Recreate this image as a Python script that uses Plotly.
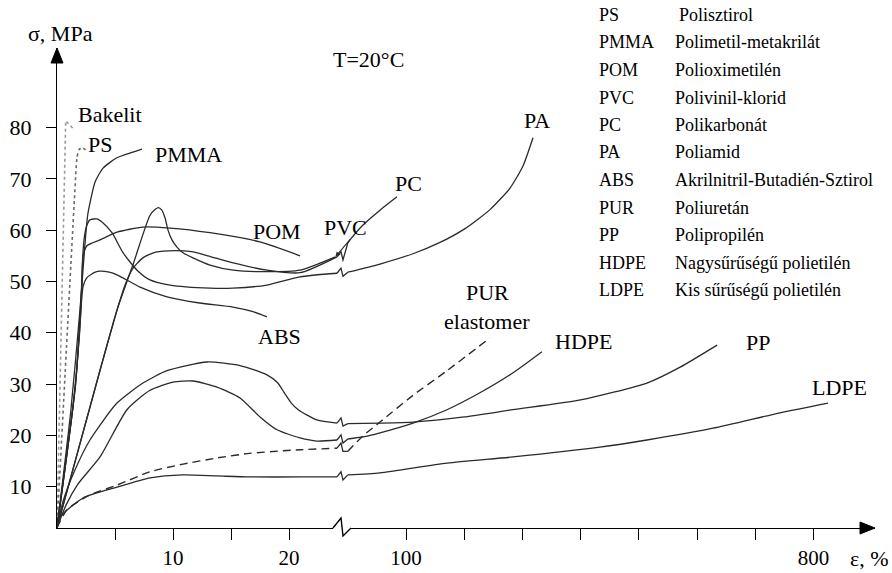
import plotly.graph_objects as go

FONT = "Liberation Serif, Times New Roman, serif"

# ---------------- data: strain [%], stress [MPa] ----------------
# left part of the broken strain axis (0 ... ~25 %)
bakelit_x = [0, 0.75, 1.35]
bakelit_y = [2, 81.3, 79.9]
ps_x = [0, 1.5, 1.72, 1.9, 2.16, 2.5]
ps_y = [2, 66, 74.0, 75.7, 76.1, 75.6]
pmma_x = [0, 1.2, 2.0, 2.4, 2.65, 2.9, 3.28, 3.97, 5.17, 6.55, 7.33]
pmma_y = [2, 25, 45, 57, 63, 65.9, 69.4, 72.1, 74.1, 75.2, 75.8]
pom_x = [0, 1.6, 2.1, 2.26, 2.6, 3.71, 5.17, 7.41, 9.74, 13.19, 17.5, 20.95]
pom_y = [2, 30, 48, 55.0, 57.0, 58.1, 59.6, 60.6, 60.4, 59.5, 57.7, 55.0]
abs_x = [0, 1.6, 2.05, 2.24, 2.6, 3.3, 3.71, 4.5, 5.17, 7.16, 9.48, 12.3, 15.17, 16.9, 18.1]
abs_y = [2, 30, 44, 48.9, 50.8, 51.8, 52.0, 51.8, 51.3, 48.9, 47.0, 45.8, 45.0, 44.1, 43.1]
pvc_x = [0, 3.71, 5.17, 6.6, 8.0, 8.5, 8.75, 9.0, 9.31, 9.57, 9.91, 10.34, 10.86, 11.72, 13.19, 15.2, 18.1, 20.95, 24.0]
pvc_y = [2, 32.7, 44.4, 53.6, 62.8, 64.1, 64.4, 64.0, 62.4, 60.0, 58.1, 56.7, 55.6, 54.6, 53.2, 52.2, 51.9, 52.2, 54.8]
pc_x1 = [0, 3.71, 5.17, 5.9, 6.5, 7.4, 8.5, 10.2, 11.6, 13.0, 15.2, 18.1, 20.95, 24.14]
pc_y1 = [2, 32.7, 44.4, 49.5, 52.4, 54.6, 55.7, 56.0, 55.8, 55.0, 53.6, 52.2, 51.7, 54.8]
pa_x1 = [0, 1.4, 1.95, 2.12, 2.2, 2.35, 2.55, 2.84, 3.45, 3.88, 4.74, 5.69, 6.9, 8.02, 9.74, 13.19, 15.17, 18.1, 20.95, 24.14]
pa_y1 = [2, 26, 40, 48, 54, 58.5, 60.8, 62.0, 62.2, 61.6, 59.5, 55.6, 52.2, 50.3, 49.3, 48.7, 48.7, 49.3, 50.9, 51.6]
pp_x1 = [0, 0.5, 1.5, 2.84, 5.17, 7.41, 9.48, 12.93, 15.78, 18.1, 19.0, 19.6, 20.2, 20.8, 22.41, 24.14]
pp_y1 = [2, 7, 13, 19.1, 26.3, 30.2, 32.6, 34.3, 33.6, 31.8, 30.3, 28.3, 26.3, 25.0, 23.0, 22.4]
hdpe_x1 = [0, 0.8, 1.8, 3.71, 6.03, 8.02, 10.0, 11.72, 13.79, 15.78, 17.5, 18.97, 20.95, 22.41, 24.14]
hdpe_y1 = [2, 6.5, 10.5, 15.8, 25.0, 28.8, 30.4, 30.6, 29.4, 27.3, 23.6, 21.1, 19.5, 18.9, 19.1]
pur_x1 = [0, 0.86, 2.84, 5.17, 8.0, 10.86, 13.8, 16.6, 19.5, 21.0, 24.14]
pur_y1 = [2, 5.5, 8.4, 10.3, 12.9, 14.4, 15.6, 16.5, 17.0, 17.2, 17.5]
ldpe_x1 = [0, 0.26, 2.24, 5.17, 8.02, 10.86, 13.79, 16.6, 20.95, 24.14]
ldpe_y1 = [2, 4.1, 7.8, 9.9, 11.7, 12.3, 12.1, 11.9, 11.9, 11.9]

# right part of the broken strain axis (0 ... ~900 %)
pc_x2 = [0, 3.8, 26.1, 55.3, 84.5]
pc_y2 = [57.5, 58.1, 61.0, 63.9, 66.5]
pa_x2 = [0, 55.3, 112, 158.4, 201.4, 244.3, 278.7, 301, 318.2]
pa_y2 = [51.8, 53.4, 55.4, 57.6, 60.3, 64.0, 68.2, 72.5, 78.0]
pp_x2 = [0, 56, 112, 200, 283.5, 400, 514, 571, 634.5]
pp_y2 = [22.3, 22.4, 22.6, 23.6, 25.0, 26.9, 30.2, 33.3, 37.6]
hdpe_x2 = [0, 26.1, 55.3, 112, 170.4, 227, 284, 333.5]
hdpe_y2 = [19.3, 19.7, 20.5, 22.4, 25.0, 28.3, 32.2, 36.3]
pur_x2 = [0, 26.1, 55.3, 112, 170.4, 244.3]
pur_y2 = [16.9, 19.9, 22.6, 27.8, 32.6, 39.0]
ldpe_x2 = [0, 55.3, 170.4, 283.8, 433, 514, 627.5, 742.6, 825]
ldpe_y2 = [12.3, 12.7, 14.6, 15.8, 17.7, 19.1, 21.4, 24.4, 26.3]

y_ticks = [10, 20, 30, 40, 50, 60, 70, 80]
x1_ticks = [5, 10, 15, 20]
x1_labels = ["", "10", "", "20"]
x2_ticks = [100, 200, 300, 400, 500, 600, 700, 800]
x2_labels = ["100", "", "", "", "", "", "", "800"]

legend_abbr = ["PS", "PMMA", "POM", "PVC", "PC", "PA", "ABS", "PUR", "PP", "HDPE", "LDPE"]
legend_name = ["Polisztirol", "Polimetil-metakrilát", "Polioximetilén", "Polivinil-klorid",
               "Polikarbonát", "Poliamid", "Akrilnitril-Butadién-Sztirol", "Poliuretán",
               "Polipropilén", "Nagysűrűségű polietilén", "Kis sűrűségű polietilén"]

# ---------------- layout geometry (pixels) ----------------
W, H = 892, 573
PL, PR, PT, PB = 57, 875, 48, 528
PW, PH = PR - PL, PB - PT
BRK = 341
def xp(px):
    return (px - PL) / PW
def yp(py):
    return (PB - py) / PH

LC = "#2a2a2a"
LW = 1.3

fig = go.Figure()

def add(x, y, axis="x", dash="solid", color=LC, width=LW, shape="spline"):
    fig.add_trace(go.Scatter(x=x, y=y, xaxis=axis, yaxis="y", mode="lines",
                             line=dict(color=color, width=width, dash=dash, shape=shape,
                                       smoothing=0.6),
                             showlegend=False, hoverinfo="skip"))

add(bakelit_x, bakelit_y, dash="dot", color="#9a9a9a", width=1.6, shape="linear")
add(ps_x, ps_y, dash="dot", color="#6a6a6a", width=1.6)
add(pmma_x, pmma_y)
add(pom_x, pom_y)
add(abs_x, abs_y)
add(pvc_x, pvc_y)
add(pc_x1, pc_y1)
add(pa_x1, pa_y1)
add(pp_x1, pp_y1)
add(hdpe_x1, hdpe_y1)
add(pur_x1, pur_y1, dash="8px,5px", width=1.4)
add(ldpe_x1, ldpe_y1)
add(pc_x2, pc_y2, "x2")
add(pa_x2, pa_y2, "x2")
add(pp_x2, pp_y2, "x2")
add(hdpe_x2, hdpe_y2, "x2")
add(pur_x2, pur_y2, "x2", dash="8px,5px", width=1.4)
add(ldpe_x2, ldpe_y2, "x2")

shapes = []
# zigzags on the curves at the axis break
x2_zero_px = BRK + 11.7 * 0.582
for l_y, r_y in [(pc_y1, pc_y2), (pa_y1, pa_y2), (pp_y1, pp_y2), (hdpe_y1, hdpe_y2),
                 (pur_y1, pur_y2), (ldpe_y1, ldpe_y2)]:
    y1, y2 = l_y[-1], r_y[0]
    path = (f"M {xp(337)},{y1} L {xp(341)},{y1 + 1.0} L {xp(343)},{y1 - 0.6} "
            f"L {xp(x2_zero_px)},{y2}")
    shapes.append(dict(type="path", path=path, xref="paper", yref="y",
                       line=dict(color=LC, width=LW)))
# break on the x axis
shapes.append(dict(type="rect", xref="paper", yref="paper", x0=xp(333), x1=xp(351),
                   y0=yp(531), y1=yp(525), fillcolor="white", line=dict(width=0)))
shapes.append(dict(type="path", xref="paper", yref="paper",
                   path=f"M {xp(333)},0 L {xp(341)},{yp(518)} L {xp(343)},{yp(536)} L {xp(351)},0",
                   line=dict(color="black", width=1.4)))
# arrow heads of the axes
shapes.append(dict(type="path", xref="paper", yref="paper",
                   path=f"M 0,1 L {xp(PL - 6)},{yp(PT + 15)} L {xp(PL + 6)},{yp(PT + 15)} Z",
                   fillcolor="black", line=dict(color="black", width=1)))
shapes.append(dict(type="path", xref="paper", yref="paper",
                   path=f"M 1,0 L {xp(PR - 15)},{yp(PB - 6)} L {xp(PR - 15)},{yp(PB + 6)} Z",
                   fillcolor="black", line=dict(color="black", width=1)))

ann = []
def txt(t, px, py, size=22, xanchor="center"):
    ann.append(dict(text=t, x=xp(px), y=yp(py), xref="paper", yref="paper",
                    showarrow=False, xanchor=xanchor, yanchor="middle",
                    font=dict(family=FONT, size=size, color="black")))

txt("σ, MPa", 60, 33)
txt("ε, %", 848, 558, xanchor="left")
txt("T=20°C", 368, 59)
txt("Bakelit", 110, 115)
txt("PS", 100, 145)
txt("PMMA", 188, 154)
txt("POM", 277, 231)
txt("PVC", 345, 227)
txt("PC", 408, 183)
txt("PA", 537, 120)
txt("ABS", 279, 336)
txt("PUR", 487, 292)
txt("elastomer", 487, 321)
txt("HDPE", 583, 341)
txt("PP", 758, 342)
txt("LDPE", 839, 388)

for i, (a, n) in enumerate(zip(legend_abbr, legend_name)):
    py = 15 + i * 27.5
    txt(a, 597, py, size=18, xanchor="left")
    txt(n, 677 if i == 0 else 673, py, size=18, xanchor="left")

# PVC arrow
ann.append(dict(x=pvc_x[-1], y=pvc_y[-1], xref="x", yref="y", ax=16, ay=-19,
                axref="pixel", ayref="pixel", showarrow=True, arrowhead=2,
                arrowsize=0.9, arrowwidth=1.1, arrowcolor=LC, text=""))

axis_common = dict(showline=True, linecolor="black", linewidth=1.4, showgrid=False,
                   zeroline=False, ticks="outside", tickcolor="black", tickwidth=1.3,
                   automargin=False)
tick_font = dict(family=FONT, size=21, color="black")

fig.update_layout(
    width=W, height=H, autosize=False,
    margin=dict(l=PL, r=W - PR, t=PT, b=H - PB, pad=0, autoexpand=False),
    paper_bgcolor="white", plot_bgcolor="white",
    xaxis=dict(domain=[0, xp(BRK)], range=[0, (BRK - PL) / 11.6], tickvals=x1_ticks,
               ticktext=x1_labels, ticklen=11, anchor="y", ticklabelstandoff=0,
               tickfont=tick_font, **axis_common),
    xaxis2=dict(domain=[xp(BRK), 1], range=[-11.7, 100 + (PR - 406) / 0.582],
                tickvals=x2_ticks, ticktext=x2_labels, ticklen=11, anchor="y",
                ticklabelstandoff=0, tickfont=tick_font, **axis_common),
    yaxis=dict(range=[1.95, 1.95 + PH / 5.131], tickvals=y_ticks, ticklen=10,
               ticklabelstandoff=10, tickfont=dict(family=FONT, size=22, color="black"),
               **axis_common),
    shapes=shapes, annotations=ann,
)

fig.write_html("out.html")
